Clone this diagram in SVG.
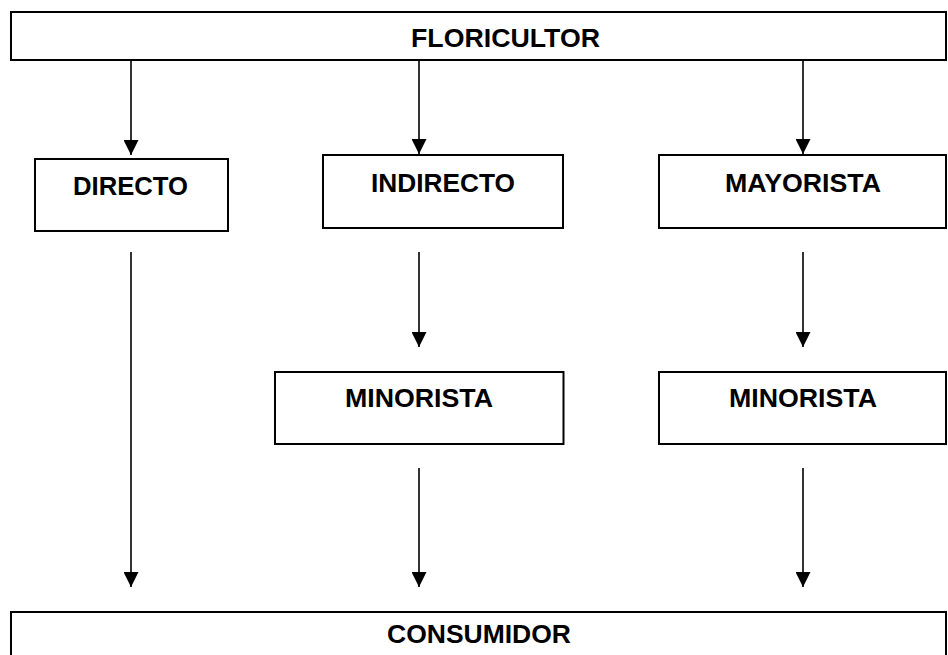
<svg xmlns="http://www.w3.org/2000/svg" width="948" height="655" viewBox="0 0 948 655">
<style>
.box{fill:#fff;stroke:#000;stroke-width:2}
.lbl{font-family:"Liberation Sans",Arial,sans-serif;font-weight:bold;font-size:25px;fill:#000;text-anchor:middle}
.con{stroke:#000;stroke-width:1.6;fill:none;marker-end:url(#ah)}
</style>
<defs>
<marker id="ah" markerUnits="userSpaceOnUse" markerWidth="15" markerHeight="15" refX="15" refY="7.5" orient="auto" viewBox="0 0 15 15">
<path d="M0,0 L15,7.5 L0,15 z" fill="#000"/>
</marker>
</defs>
<rect width="948" height="655" fill="#fff"/>
<g id="floricultor"><rect class="box" x="11" y="12" width="935" height="48"/><text class="lbl" x="505.5" y="46.5" textLength="189" lengthAdjust="spacingAndGlyphs">FLORICULTOR</text></g>
<g id="directo"><rect class="box" x="35" y="159" width="193" height="72"/><text class="lbl" x="130.5" y="194.5" textLength="115" lengthAdjust="spacingAndGlyphs">DIRECTO</text></g>
<g id="indirecto"><rect class="box" x="323" y="155" width="240" height="73"/><text class="lbl" x="443" y="192" textLength="144" lengthAdjust="spacingAndGlyphs">INDIRECTO</text></g>
<g id="mayorista"><rect class="box" x="659" y="155" width="287" height="73"/><text class="lbl" x="803" y="192" textLength="156" lengthAdjust="spacingAndGlyphs">MAYORISTA</text></g>
<g id="minorista1"><rect class="box" x="275" y="372" width="288.5" height="72"/><text class="lbl" x="419" y="407" textLength="148" lengthAdjust="spacingAndGlyphs">MINORISTA</text></g>
<g id="minorista2"><rect class="box" x="659" y="372" width="287" height="72"/><text class="lbl" x="803" y="407" textLength="148" lengthAdjust="spacingAndGlyphs">MINORISTA</text></g>
<g id="consumidor"><rect class="box" x="11" y="612" width="935" height="60"/><text class="lbl" x="479" y="643" textLength="184" lengthAdjust="spacingAndGlyphs">CONSUMIDOR</text></g>
<g id="connectors">
<line class="con" x1="131" y1="60" x2="131" y2="155"/>
<line class="con" x1="419" y1="60" x2="419" y2="154"/>
<line class="con" x1="803" y1="60" x2="803" y2="154"/>
<line class="con" x1="131" y1="252" x2="131" y2="587"/>
<line class="con" x1="419" y1="252" x2="419" y2="347"/>
<line class="con" x1="803" y1="252" x2="803" y2="347"/>
<line class="con" x1="419" y1="468" x2="419" y2="587"/>
<line class="con" x1="803" y1="468" x2="803" y2="587"/>
</g>
</svg>
